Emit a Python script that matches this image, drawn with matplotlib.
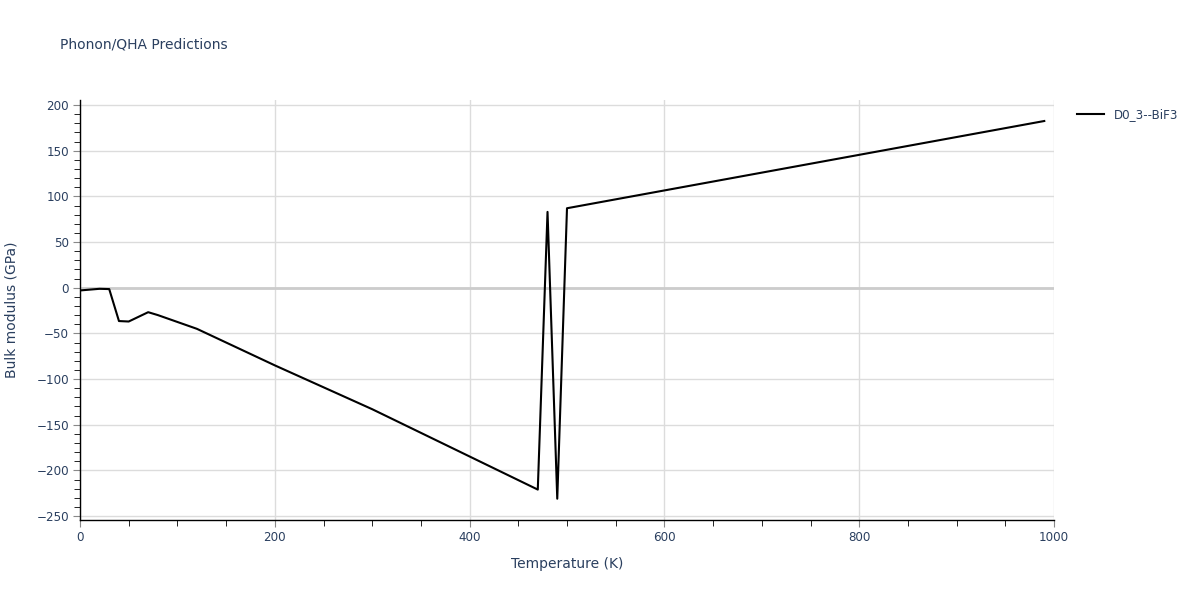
import matplotlib.pyplot as plt
from matplotlib.ticker import MultipleLocator

# Daten
temperatur = [0, 20, 30, 40, 50, 70, 80, 120, 200, 300, 470, 480, 490, 500, 600, 990]
bulk_modul = [-3, -1.2, -1.5, -36.5, -37, -26.8, -30, -45, -85, -133, -221, 83, -231, 87, 106.5, 182.5]
serien_name = 'D0_3--BiF3'

textfarbe = '#2a3f5f'
plt.rcParams['font.family'] = ['DejaVu Sans']

fig = plt.figure(figsize=(12, 6), dpi=100)
ax = fig.add_axes([80 / 1200, 80 / 600, 974 / 1200, 420 / 600])

ax.plot(temperatur, bulk_modul, color='black', linewidth=1.5, label=serien_name, zorder=3)

ax.set_xlim(0, 1000)
ax.set_ylim(-254.3, 205.5)

ax.xaxis.set_major_locator(MultipleLocator(200))
ax.xaxis.set_minor_locator(MultipleLocator(50))
ax.yaxis.set_major_locator(MultipleLocator(50))
ax.yaxis.set_minor_locator(MultipleLocator(10))

ax.grid(True, which='major', color='#dcdcdc', linewidth=1)
ax.axhline(0, color='#cccccc', linewidth=2, zorder=1)
ax.set_axisbelow(True)

for seite in ['top', 'right']:
    ax.spines[seite].set_visible(False)
for seite in ['left', 'bottom']:
    ax.spines[seite].set_color('black')
    ax.spines[seite].set_linewidth(1)

ax.tick_params(which='major', length=5, color='#888888', labelcolor=textfarbe, labelsize=8.6, pad=3)
ax.tick_params(which='minor', length=4, color='black')

ax.set_xlabel('Temperature (K)', color=textfarbe, fontsize=10, labelpad=9)
ax.set_ylabel('Bulk modulus (GPa)', color=textfarbe, fontsize=10, labelpad=13)

fig.text(60 / 1200, 1 - 45 / 600, 'Phonon/QHA Predictions', color=textfarbe, fontsize=10,
         va='center', ha='left')

leg = ax.legend(loc='upper left', bbox_to_anchor=(1.015, 1.0), frameon=False, fontsize=8.6,
                handlelength=2.3, borderaxespad=0.3)
for t in leg.get_texts():
    t.set_color(textfarbe)

fig.savefig('out.png', dpi=100)
